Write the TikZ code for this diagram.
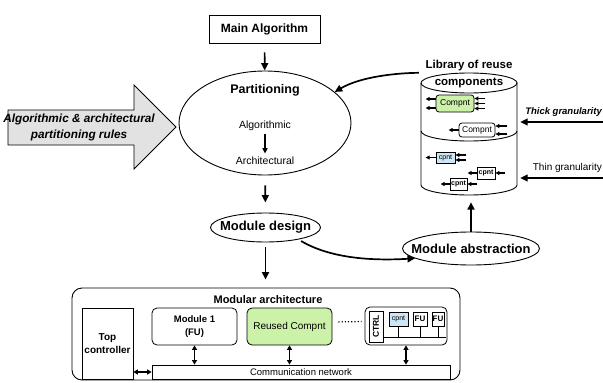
\documentclass[tikz,border=0pt]{standalone}
\usepackage{fontspec}
\setmainfont{Liberation Sans}
\usetikzlibrary{shapes.geometric,arrows.meta,calc}
\definecolor{compgreen}{RGB}{204,242,170}
\definecolor{compblue}{RGB}{204,230,245}
\definecolor{arrowgray}{RGB}{226,226,226}
\begin{document}
\begin{tikzpicture}[x=1pt,y=-1pt,
  box/.style={draw, line width=0.8pt, inner sep=0pt, align=center},
  ell/.style={draw, ellipse, line width=0.9pt, inner sep=0pt},
  arr/.style={line width=1.7pt, -{Triangle[length=7.5pt,width=7pt]}},
  marr/.style={line width=1.3pt, -{Triangle[length=5.5pt,width=5pt]}},
  sarr/.style={line width=1.2pt, -{Triangle[length=4pt,width=4pt]}},
  dbl/.style={line width=1.5pt, {Triangle[length=4.5pt,width=5pt]}-{Triangle[length=4.5pt,width=5pt]}},
  cyl/.style={line width=0.9pt}]
\useasboundingbox (0,0) rectangle (603,383);

% Main algorithm
\node[box, minimum width=111pt, minimum height=28pt, font=\bfseries\fontsize{12}{14}\selectfont] (main) at (264.5,29) {Main Algorithm};

% Partitioning
\node[ell, minimum width=172pt, minimum height=104pt] (part) at (265,123) {};
\node[font=\bfseries\fontsize{12.5}{14}\selectfont] (parttitle) at (265,90) {Partitioning};
\node[font=\fontsize{10.5}{12}\selectfont] (alg) at (265,126) {Algorithmic};
\node[font=\fontsize{10.5}{12}\selectfont] (arch) at (265,161) {Architectural};
\draw[marr] (alg) -- (arch);
\draw[arr, shorten <=9pt] (main) -- (part);

% Rules block arrow
\draw[line width=0.8pt, fill=arrowgray] (8,110) -- (134,110) -- (134,85) -- (176,127) -- (134,169) -- (134,145) -- (8,145) -- cycle;
\node[font=\bfseries\itshape\fontsize{11.8}{16}\selectfont, align=center] (rules) at (79,127) {Algorithmic \& architectural\\partitioning rules};

% Module design
\node[ell, minimum width=110pt, minimum height=29pt] (design) at (265.5,227.5) {};
\node[font=\bfseries\fontsize{13}{15}\selectfont] (designtxt) at (design) {Module design};
\draw[arr, shorten <=10pt, shorten >=10pt] (part) -- (design);

% Module abstraction
\node[ell, minimum width=137pt, minimum height=33pt] (abs) at (471,248.5) {};
\node[font=\bfseries\fontsize{13}{15}\selectfont] (abstxt) at (abs) {Module abstraction};
\draw[arr, shorten <=3pt] (design.-20) .. controls (330,258) and (370,261) .. (abs.190);

% Library cylinder
\node[minimum width=96pt, minimum height=122pt, inner sep=0pt] (lib) at (469,134) {};
\draw[cyl] (469,83) ellipse [x radius=48pt, y radius=10pt];
\draw[cyl] (421,83) -- (421,185) arc[start angle=180, end angle=360, x radius=48pt, y radius=10pt] -- (517,83);
\draw[cyl] (421,131) arc[start angle=180, end angle=360, x radius=48pt, y radius=10pt];
\node[font=\bfseries\fontsize{11.5}{13}\selectfont] (libtitle) at (469,66) {Library of reuse};
\node[font=\bfseries\fontsize{11.5}{13}\selectfont] (libcomp) at (469,83) {components};
\draw[arr, shorten >=7pt] (abs) -- (abs |- lib.south);
\draw[arr, shorten <=2pt] (lib.north west) .. controls (395,73) and (360,77) .. (part.24);

% components in library
\node[box, rounded corners=3pt, fill=compgreen, minimum width=38pt, minimum height=17pt, font=\fontsize{8.5}{10}\selectfont] (c1) at (455,103.5) {Compnt};
\foreach \s in {4.5,-4.5} \draw[sarr] ([yshift=\s pt]c1.west) -- ++(-10,0);
\foreach \s in {5,0,-5} \draw[sarr] ([yshift=\s pt]c1.east) ++(11,0) -- ++(-11,0);

\node[box, rounded corners=3pt, fill=white, minimum width=36pt, minimum height=14pt, font=\fontsize{8.5}{10}\selectfont] (c2) at (477,130) {Compnt};
\draw[sarr] (c2.west) -- ++(-10,0);
\foreach \s in {4,-4} \draw[sarr] ([yshift=\s pt]c2.east) ++(12,0) -- ++(-12,0);

\node[box, fill=compblue, minimum width=19pt, minimum height=11pt, font=\fontsize{7}{8}\selectfont] (c3) at (445.5,157.5) {cpnt};
\draw[sarr] (c3.west) -- ++(-10,0);
\foreach \s in {2.5,-2.5} \draw[sarr] ([yshift=\s pt]c3.east) ++(11,0) -- ++(-11,0);

\node[box, fill=white, minimum width=18pt, minimum height=12pt, font=\bfseries\fontsize{7}{8}\selectfont] (c4) at (486,173) {cpnt};
\draw[sarr] (c4.west) -- ++(-9,0);
\draw[sarr] (c4.east) ++(10,0) -- ++(-10,0);

\node[box, fill=white, minimum width=17pt, minimum height=12pt, font=\bfseries\fontsize{7}{8}\selectfont] (c5) at (458.5,184) {cpnt};
\draw[sarr] (c5.west) -- ++(-9,0);
\draw[sarr] (c5.east) ++(10,0) -- ++(-10,0);

% granularity
\node[anchor=east, inner sep=0pt, font=\bfseries\itshape\fontsize{9.5}{11}\selectfont] (thick) at (602,112) {Thick granularity};
\coordinate (thickR) at (603,122);
\draw[arr, line width=1.4pt, shorten >=3pt] (thickR) -- (thickR -| lib.east);
\node[anchor=east, inner sep=0pt, font=\fontsize{10}{12}\selectfont] (thin) at (602,168) {Thin granularity};
\coordinate (thinR) at (603,178);
\draw[arr, line width=1.4pt, shorten >=3pt] (thinR) -- (thinR -| lib.east);

% Modular architecture
\node[draw, line width=0.9pt, rounded corners=10pt, minimum width=388pt, minimum height=92pt] (modarch) at (266,334) {};
\node[font=\bfseries\fontsize{11}{13}\selectfont] (modtitle) at (268,300) {Modular architecture};
\draw[arr, shorten <=5pt, shorten >=8pt] (design) -- (design |- modarch.north);

\node[box, minimum width=51pt, minimum height=71pt, font=\bfseries\fontsize{10}{13}\selectfont] (topc) at (107.5,343.5) {Top\\controller};
\node[box, minimum width=298pt, minimum height=14pt, font=\fontsize{9.5}{11}\selectfont] (comm) at (301,372) {Communication network};
\node[box, rounded corners=5pt, minimum width=85pt, minimum height=37pt, font=\bfseries\fontsize{9.5}{13}\selectfont] (mod1) at (194.5,326.5) {Module 1\\(FU)};
\node[box, rounded corners=5pt, fill=compgreen, minimum width=85pt, minimum height=37pt, font=\fontsize{10}{12}\selectfont] (reused) at (289.5,326.5) {Reused Compnt};
\node[box, rounded corners=5pt, minimum width=82pt, minimum height=38pt] (grp) at (406,326) {};
\node[box, rotate=90, minimum width=31pt, minimum height=14pt, font=\bfseries\fontsize{8.5}{9}\selectfont] (ctrl) at (376,326.5) {CTRL};
\node[box, fill=compblue, minimum width=19pt, minimum height=14pt, font=\fontsize{7}{8}\selectfont] (gc) at (398.5,319) {cpnt};
\node[box, minimum width=14pt, minimum height=14pt, font=\bfseries\fontsize{8}{9}\selectfont] (fu1) at (420,319) {FU};
\node[box, minimum width=12pt, minimum height=14pt, font=\bfseries\fontsize{8}{9}\selectfont] (fu2) at (438,319) {FU};
\coordinate (busL) at (383,337);
\coordinate (busR) at (446,337);
\draw[line width=0.7pt] (busL) -- (busR);
\foreach \b in {gc,fu1,fu2} \draw[line width=0.7pt] (\b.south) -- (\b.south |- busL);

\draw[dbl] (topc.east |- comm.west) -- (comm.west);
\draw[dbl] (mod1) -- (mod1 |- comm.north);
\draw[dbl] (reused) -- (reused |- comm.north);
\draw[dbl] (grp) -- (grp |- comm.north);
\draw[line width=1.2pt, dotted, shorten <=6pt, shorten >=3pt] ([yshift=4.5pt]reused.east) -- ([yshift=4.5pt]grp.west);
\end{tikzpicture}
\end{document}
